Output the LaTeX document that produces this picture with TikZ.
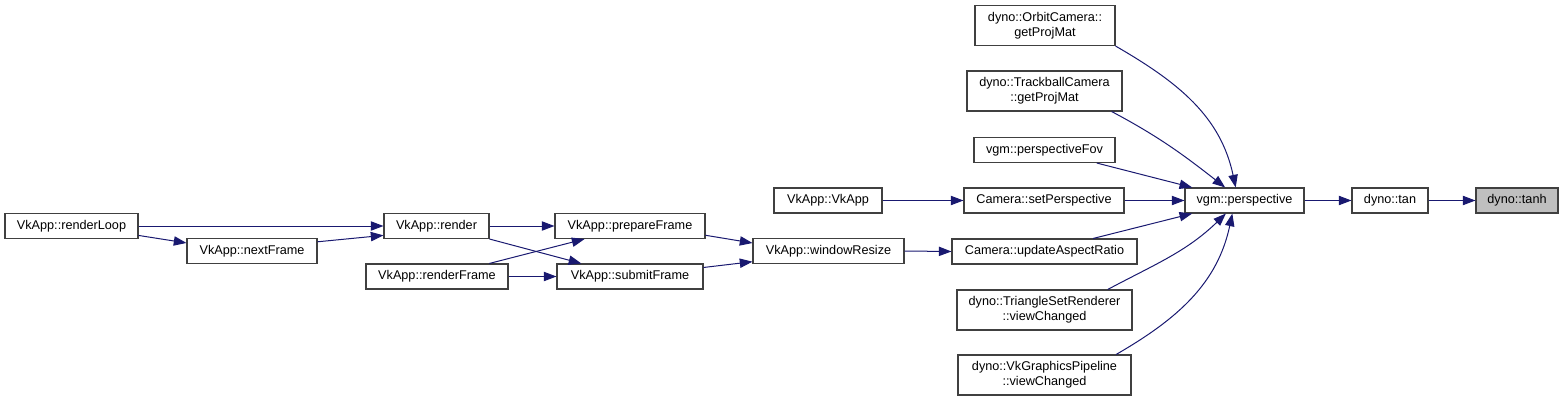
\documentclass[tikz,border=0pt]{standalone}
\usepackage{fontspec}
\setmainfont{Liberation Sans}
\usetikzlibrary{arrows.meta}
\definecolor{midnightblue}{HTML}{191970}
\definecolor{curgray}{HTML}{BFBFBF}

\begin{document}
\begin{tikzpicture}[
  x=0.75pt, y=-0.75pt,
  font=\fontsize{9.5}{11.5}\selectfont,
  >={Triangle[length=9.5pt, width=7pt]},
  fn/.style={rectangle, draw=black!75, line width=0.8pt, fill=white,
             inner sep=0pt, minimum height=18.75pt, align=center},
  fn-2/.style={fn, minimum height=30pt},
  fn-cur/.style={fn, fill=curgray},
  wd/.style={minimum width=#1*0.75pt},
  call/.style={->, draw=midnightblue, line width=0.75pt}
]
  \useasboundingbox (0,0) rectangle (1564,401);

  % callers, left to right
  \node[fn, wd=133] (renderLoop)   at (71.5,226)   {VkApp::renderLoop};
  \node[fn, wd=130] (nextFrame)    at (252,251)    {VkApp::nextFrame};
  \node[fn, wd=105] (render)       at (436.5,226)  {VkApp::render};
  \node[fn, wd=142] (renderFrame)  at (437,276.5)  {VkApp::renderFrame};
  \node[fn, wd=150] (prepareFrame) at (630,226)    {VkApp::prepareFrame};
  \node[fn, wd=146] (submitFrame)  at (630,276.5)  {VkApp::submitFrame};
  \node[fn, wd=151] (windowResize) at (828.5,251)  {VkApp::windowResize};
  \node[fn, wd=108] (vkApp)        at (828,200.5)  {VkApp::VkApp};

  % column of direct callers of vgm::perspective
  \node[fn-2, wd=140] (orbitProj)      at (1045,25.5)    {dyno::OrbitCamera::\\getProjMat};
  \node[fn-2, wd=155] (trackballProj)  at (1044.5,91)    {dyno::TrackballCamera\\::getProjMat};
  \node[fn, wd=141]   (perspectiveFov) at (1044.5,150)   {vgm::perspectiveFov};
  \node[fn, wd=160]   (setPerspective) at (1044,200.5)   {Camera::setPerspective};
  \node[fn, wd=185]   (updateAspect)   at (1044.5,251.5) {Camera::updateAspectRatio};
  \node[fn-2, wd=175] (triViewChanged) at (1044.5,310)   {dyno::TriangleSetRenderer\\::viewChanged};
  \node[fn-2, wd=173] (gpViewChanged)  at (1044.5,375)   {dyno::VkGraphicsPipeline\\::viewChanged};

  \node[fn, wd=119]     (perspective) at (1244.5,200.5) {vgm::perspective};
  \node[fn, wd=76]      (tan)         at (1390,200.5)   {dyno::tan};
  \node[fn-cur, wd=82]  (tanh)        at (1517,200.5)   {dyno::tanh};

  % calls
  \draw[call] (renderLoop.east) -- (render.west);
  \draw[call] (renderLoop.-8) -- (nextFrame.173);
  \draw[call] (nextFrame.8) -- (render.190);

  \draw[call] (render.east) -- (prepareFrame.west);
  \draw[call] (render.south east) -- (submitFrame.165);
  \draw[call] (renderFrame.14) -- (prepareFrame.196);
  \draw[call] (renderFrame.east) -- (submitFrame.west);

  \draw[call] (prepareFrame.-7) -- (windowResize.174);
  \draw[call] (submitFrame.7) -- (windowResize.188);
  \draw[call] (windowResize.east) -- (updateAspect.west);
  \draw[call] (vkApp.east) -- (setPerspective.west);

  \draw[call] (orbitProj.south east) to[out=-30, in=102] (perspective.124);
  \draw[call] (trackballProj.-17) to[out=-28, in=142] (perspective.146);
  \draw[call] (perspectiveFov.-14) -- (perspective.166);
  \draw[call] (setPerspective.east) -- (perspective.west);
  \draw[call] (updateAspect.15) -- (perspective.194);
  \draw[call] (triViewChanged.18) to[out=28, in=-136] (perspective.215);
  \draw[call] (gpViewChanged.16) to[out=30, in=-102] (perspective.227);

  \draw[call] (perspective.east) -- (tan.west);
  \draw[call] (tan.east) -- (tanh.west);

\end{tikzpicture}
\end{document}
